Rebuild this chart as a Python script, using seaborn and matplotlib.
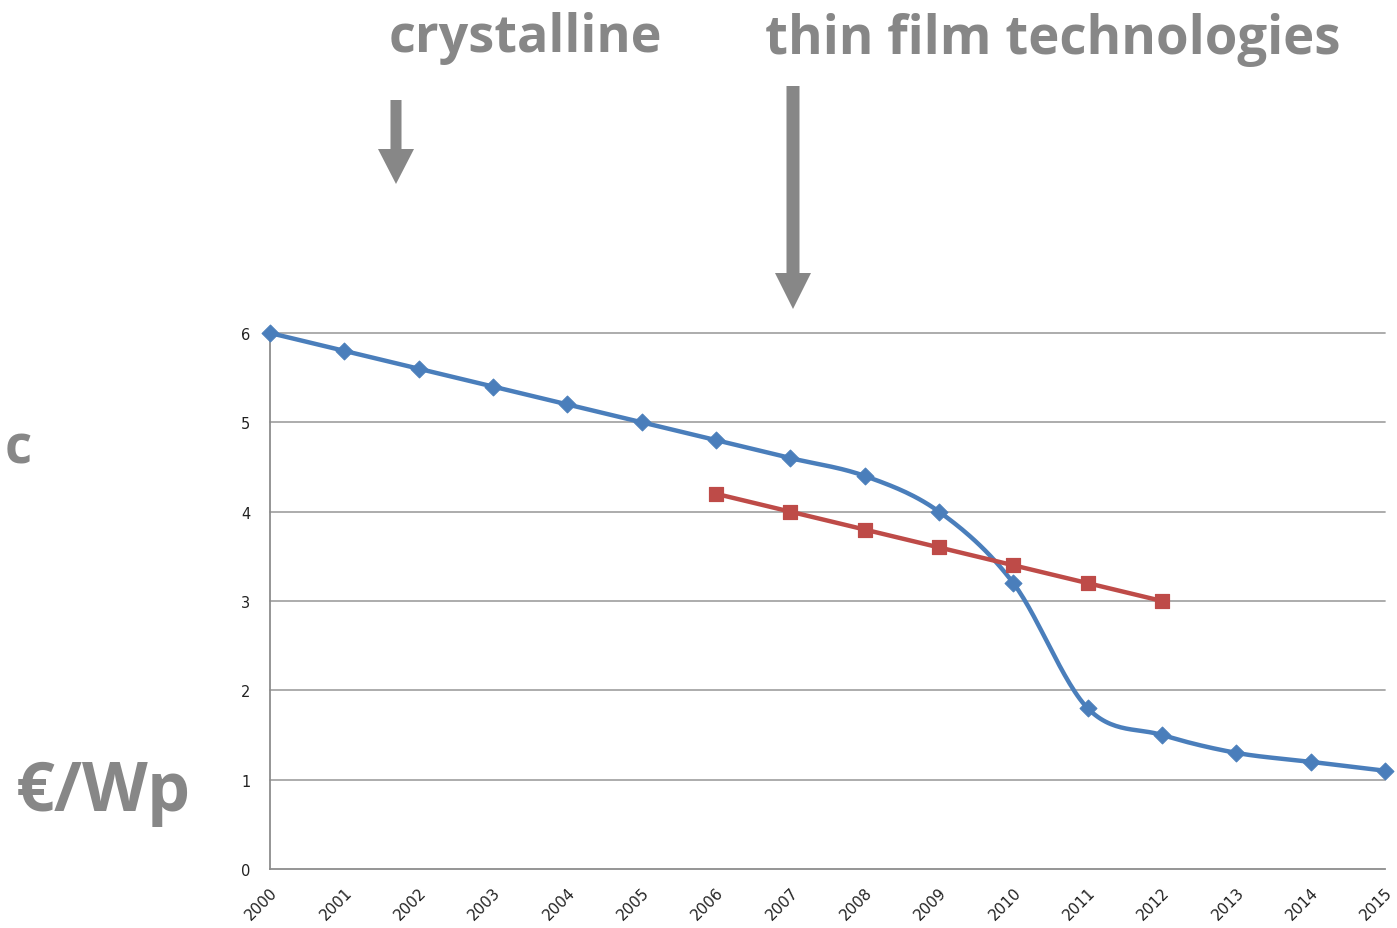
import numpy as np
import pandas as pd
import matplotlib
matplotlib.use("Agg")
import matplotlib.pyplot as plt
from matplotlib.patches import FancyArrow
import seaborn as sns

# data
annees = list(range(2000, 2016))
cristallin = [6.0, 5.8, 5.6, 5.4, 5.2, 5.0, 4.8, 4.6, 4.4, 4.0, 3.2, 1.8, 1.5, 1.3, 1.2, 1.1]
annees_film = list(range(2006, 2013))
film_mince = [4.2, 4.0, 3.8, 3.6, 3.4, 3.2, 3.0]

bleu = "#4a7ebb"
rouge = "#be4b48"
gris = "#878787"

sns.set_style("white")
plt.rcParams["font.family"] = ["DejaVu Sans"]

# courbe lissée façon Excel (bezier entre les points)
def lisser(x, y, n=30):
    x = np.asarray(x, float)
    y = np.asarray(y, float)
    px, py = [], []
    for i in range(len(x) - 1):
        i0 = max(i - 1, 0)
        i3 = min(i + 2, len(x) - 1)
        c1x = x[i] + (x[i + 1] - x[i0]) / 6
        c1y = y[i] + (y[i + 1] - y[i0]) / 6
        c2x = x[i + 1] - (x[i3] - x[i]) / 6
        c2y = y[i + 1] - (y[i3] - y[i]) / 6
        t = np.linspace(0, 1, n)
        px.extend((1 - t) ** 3 * x[i] + 3 * (1 - t) ** 2 * t * c1x + 3 * (1 - t) * t ** 2 * c2x + t ** 3 * x[i + 1])
        py.extend((1 - t) ** 3 * y[i] + 3 * (1 - t) ** 2 * t * c1y + 3 * (1 - t) * t ** 2 * c2y + t ** 3 * y[i + 1])
    return pd.DataFrame({"x": px, "y": py})

df_c = pd.DataFrame({"annee": annees, "prix": cristallin})
df_f = pd.DataFrame({"annee": annees_film, "prix": film_mince})
courbe = lisser(annees, cristallin)

fig = plt.figure(figsize=(13.97, 9.29), dpi=100)
ax = fig.add_axes([270 / 1397, 1 - 870 / 929, 1115 / 1397, 536 / 929])

for v in range(1, 7):
    ax.axhline(v, color="#a6a6a6", lw=1.3, zorder=0)

sns.lineplot(data=courbe, x="x", y="y", sort=False, estimator=None, color=bleu, lw=3.2, ax=ax)
sns.scatterplot(data=df_c, x="annee", y="prix", marker="D", s=75, color=bleu, edgecolor=bleu, ax=ax, zorder=3)
sns.lineplot(data=df_f, x="annee", y="prix", sort=False, estimator=None, color=rouge, lw=3.2, ax=ax)
sns.scatterplot(data=df_f, x="annee", y="prix", marker="s", s=115, color=rouge, edgecolor=rouge, ax=ax, zorder=3)

ax.set_xlim(2000, 2015)
ax.set_ylim(0, 6)
ax.set_xticks(annees)
ax.set_xticklabels([str(a) for a in annees], rotation=45, ha="right", rotation_mode="anchor", fontsize=11)
ax.set_yticks(range(0, 7))
ax.set_yticklabels([str(v) for v in range(0, 7)], fontsize=10.5)
ax.tick_params(axis="both", direction="out", length=6, width=1.2, color="#8c8c8c", labelcolor="#222222")
ax.tick_params(axis="x", pad=5)
ax.tick_params(axis="y", pad=8)
ax.set_xlabel("")
ax.set_ylabel("")
for s in ["top", "right"]:
    ax.spines[s].set_visible(False)
for s in ["left", "bottom"]:
    ax.spines[s].set_color("#8c8c8c")
    ax.spines[s].set_linewidth(1.3)
for c in ax.collections:
    c.set_clip_on(False)
for l in ax.lines:
    l.set_clip_on(False)

# calque en pixels pour les textes et les flèches
ov = fig.add_axes([0, 0, 1, 1], zorder=5)
ov.set_xlim(0, 1397)
ov.set_ylim(929, 0)
ov.axis("off")
ov.patch.set_alpha(0)

police = ["Open Sans", "DejaVu Sans"]
ov.text(525, 38, "crystalline", fontsize=37.5, fontweight="bold", color=gris, ha="center", va="center", family=police)
ov.text(1053, 40, "thin film technologies", fontsize=38, fontweight="bold", color=gris, ha="center", va="center", family=police)
ov.text(18, 449, "c", fontsize=38, fontweight="bold", color=gris, ha="center", va="center", family=police)
ov.text(103, 793, "€/Wp", fontsize=49, fontweight="bold", color=gris, ha="center", va="center", family=police)

ov.add_patch(FancyArrow(396, 101, 0, 84, width=11, head_width=36, head_length=35,
                        length_includes_head=True, color=gris, lw=0))
ov.add_patch(FancyArrow(793, 87, 0, 223, width=13, head_width=36, head_length=36,
                        length_includes_head=True, color=gris, lw=0))

fig.savefig("out.png", dpi=100)
